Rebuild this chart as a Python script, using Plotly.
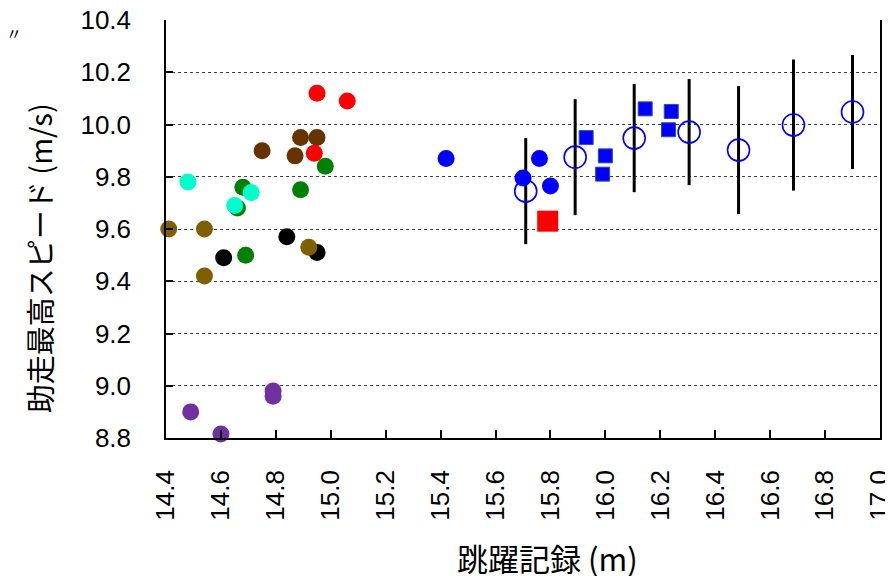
import plotly.graph_objects as go

# ---- data ----
red_x = [14.95, 15.06, 14.94]
red_y = [10.12, 10.09, 9.89]
brown_x = [14.75, 14.87, 14.89, 14.95]
brown_y = [9.90, 9.88, 9.95, 9.95]
green_x = [14.98, 14.68, 14.89, 14.66, 14.69]
green_y = [9.84, 9.76, 9.75, 9.68, 9.50]
black_x = [14.84, 14.95, 14.61]
black_y = [9.57, 9.51, 9.49]
cyan_x = [14.48, 14.71, 14.65]
cyan_y = [9.78, 9.74, 9.69]
olive_x = [14.41, 14.54, 14.92, 14.54]
olive_y = [9.60, 9.60, 9.53, 9.42]
purple_x = [14.49, 14.60, 14.79, 14.79]
purple_y = [8.90, 8.815, 8.98, 8.96]

blue_circle_x = [15.42, 15.76, 15.70, 15.80]
blue_circle_y = [9.87, 9.87, 9.795, 9.765]
blue_square_x = [15.93, 16.00, 15.99, 16.145, 16.24, 16.23]
blue_square_y = [9.95, 9.88, 9.81, 10.06, 10.05, 9.98]
red_square_x = [15.79]
red_square_y = [9.63]

mean_x = [15.71, 15.89, 16.105, 16.305, 16.485, 16.685, 16.90]
mean_y = [9.745, 9.875, 9.948, 9.971, 9.902, 9.998, 10.048]
mean_sd = [0.203, 0.222, 0.207, 0.203, 0.245, 0.251, 0.218]

x_ticks = [14.4, 14.6, 14.8, 15.0, 15.2, 15.4, 15.6, 15.8, 16.0, 16.2, 16.4, 16.6, 16.8, 17.0]
y_ticks = [8.8, 9.0, 9.2, 9.4, 9.6, 9.8, 10.0, 10.2, 10.4]

x_title = "跳躍記録 (m)"
y_title = "助走最高スピード (m/s)"

fig = go.Figure()

def dots(x, y, color, size=17, symbol="circle"):
    fig.add_trace(go.Scatter(
        x=x, y=y, mode="markers", cliponaxis=False, showlegend=False,
        marker=dict(color=color, size=size, symbol=symbol, line=dict(width=0))))

dots(black_x, black_y, "#000000")
dots(green_x, green_y, "#008000")
dots(brown_x, brown_y, "#663300")
dots(red_x, red_y, "#ff0000")
dots(cyan_x, cyan_y, "#00ffcc")
dots(olive_x, olive_y, "#7f6000")
dots(purple_x, purple_y, "#7030a0")

# mean +- SD (open circles with error bars)
fig.add_trace(go.Scatter(
    x=mean_x, y=mean_y, mode="markers", cliponaxis=False, showlegend=False,
    marker=dict(symbol="circle-open", size=22, color="#0000ff", line=dict(width=1.6, color="#0000ff")),
    error_y=dict(type="data", array=mean_sd, visible=True, color="#000000", thickness=3, width=0)))

dots(blue_circle_x, blue_circle_y, "#0000ff")
fig.add_trace(go.Scatter(
    x=blue_square_x, y=blue_square_y, mode="markers", cliponaxis=False, showlegend=False,
    marker=dict(symbol="square", size=14, color="#0000ff", line=dict(width=1, color="#3050a0"))))
dots(red_square_x, red_square_y, "#ff0000", size=21, symbol="square")

# page body has an 8px margin, so the figure is 8px smaller and margins shifted
fig.update_layout(
    width=885, height=568,
    margin=dict(l=158, r=13, t=12, b=138, autoexpand=False),
    paper_bgcolor="white", plot_bgcolor="white",
    font=dict(family="Liberation Sans, Arial, sans-serif", size=26, color="black"),
    showlegend=False,
)
fig.update_xaxes(
    range=[14.4, 17.0001], tickvals=x_ticks, ticktext=[f"{v:.1f}" for v in x_ticks],
    tickangle=-90, ticks="inside", ticklen=8, tickwidth=1.5, tickcolor="black",
    showline=True, linecolor="black", linewidth=1.5, showgrid=False, zeroline=False,
    tickfont=dict(family="Liberation Sans, Arial, sans-serif", size=26, color="black"),
    ticklabelstandoff=20, automargin=False, ticklabeloverflow="allow",
)
fig.update_yaxes(
    range=[8.8, 10.4001], tickvals=y_ticks, ticktext=[f"{v:.1f}" for v in y_ticks],
    ticks="inside", ticklen=7, tickwidth=1.5, tickcolor="black",
    showline=True, mirror=True, linecolor="black", linewidth=1.5,
    showgrid=True, gridcolor="#404040", gridwidth=1, griddash="dot", zeroline=False,
    tickfont=dict(family="Liberation Sans, Arial, sans-serif", size=26, color="black"),
    ticklabelstandoff=28, automargin=False, ticklabeloverflow="allow",
)

fig.add_annotation(
    text=x_title, xref="paper", yref="paper", x=0.534, y=-0.287,
    xanchor="center", yanchor="middle", showarrow=False,
    font=dict(family="Noto Sans CJK JP", size=31, color="black"))
fig.add_annotation(
    text=y_title, xref="paper", yref="paper", x=-0.178, y=0.43,
    xanchor="center", yanchor="middle", textangle=-90, showarrow=False,
    font=dict(family="Noto Sans CJK JP", size=29, color="black"))
fig.add_annotation(
    text="〃", xref="paper", yref="paper", x=-0.213, y=0.97,
    xanchor="center", yanchor="middle", showarrow=False,
    font=dict(family="Noto Sans CJK JP", size=16, color="black"))

fig.write_html("out.html")
